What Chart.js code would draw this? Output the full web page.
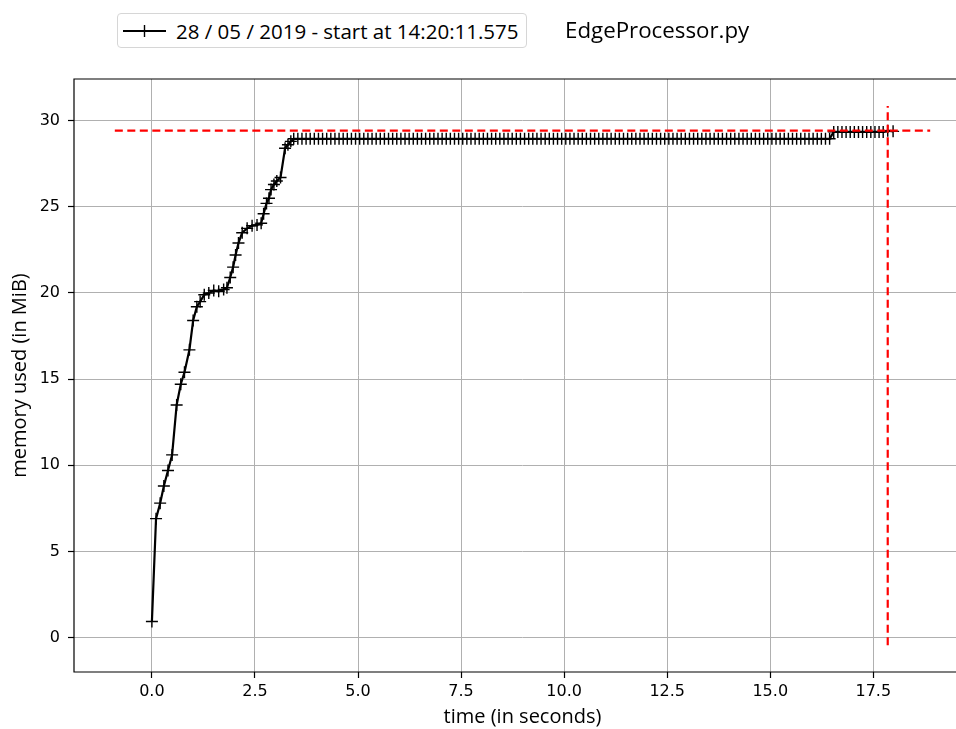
<!DOCTYPE html>
<html>
<head>
<meta charset="utf-8">
<script src="https://cdn.jsdelivr.net/npm/chart.js@4.4.1/dist/chart.umd.min.js"></script>
<style>
  body { margin: 0; background: #fff; overflow: hidden; }
  #wrap { position: relative; width: 956px; height: 729px; overflow: hidden; }
  #legend {
    position: absolute; left: 117px; top: 13px; width: 408px; height: 33px;
    border: 1px solid #d6d6d6; border-radius: 4px; background: #fff;
    font-family: "Open Sans", sans-serif; font-size: 20.5px; color: #000;
    display: flex; align-items: center; white-space: nowrap;
  }
  #legend svg { margin-left: 5px; margin-right: 10px; flex: none; }
  #title {
    position: absolute; left: 565px; top: 14px;
    font-family: "Open Sans", sans-serif; font-size: 22.3px; color: #000;
  }
</style>
</head>
<body>
<div id="wrap">
  <canvas id="memChart" width="980" height="729"></canvas>
  <div id="legend">
    <svg width="43" height="16"><line x1="0" y1="8" x2="43" y2="8" stroke="#000" stroke-width="2.2"/><line x1="21.5" y1="2" x2="21.5" y2="14" stroke="#000" stroke-width="1.4"/><line x1="15.5" y1="8" x2="27.5" y2="8" stroke="#000" stroke-width="1.4"/></svg>
    <span id="legendText"></span>
  </div>
  <div id="title"></div>
</div>
<script>
// labels
const legendLabel = '28 / 05 / 2019 - start at 14:20:11.575';
const titleText = 'EdgeProcessor.py';
const xTitle = 'time (in seconds)';
const yTitle = 'memory used (in MiB)';

// samples (seconds / MiB)
const times = [
    0.00, 0.10, 0.20, 0.29, 0.39, 0.49, 0.60, 0.70, 0.79, 0.91,
    1.00, 1.09, 1.17, 1.27, 1.38, 1.50, 1.62, 1.74, 1.82, 1.90,
    1.97, 2.03, 2.10, 2.19, 2.31, 2.43, 2.55, 2.65, 2.71, 2.78,
    2.84, 2.89, 2.96, 3.03, 3.12, 3.23, 3.30, 3.37, 3.44,
    3.54, 3.64, 3.74, 3.84, 3.94, 4.04, 4.14, 4.24, 4.34, 4.44,
    4.54, 4.64, 4.74, 4.84, 4.94, 5.04, 5.14, 5.24, 5.34, 5.44,
    5.54, 5.64, 5.74, 5.84, 5.94, 6.04, 6.14, 6.24, 6.34, 6.44,
    6.54, 6.64, 6.74, 6.84, 6.94, 7.04, 7.14, 7.24, 7.34, 7.44,
    7.54, 7.64, 7.74, 7.84, 7.94, 8.04, 8.14, 8.24, 8.34, 8.44,
    8.54, 8.64, 8.74, 8.84, 8.94, 9.04, 9.14, 9.24, 9.34, 9.44,
    9.54, 9.64, 9.74, 9.84, 9.94, 10.04, 10.14, 10.24, 10.34, 10.44,
    10.54, 10.64, 10.74, 10.84, 10.94, 11.04, 11.14, 11.24, 11.34, 11.44,
    11.54, 11.64, 11.74, 11.84, 11.94, 12.04, 12.14, 12.24, 12.34, 12.44,
    12.54, 12.64, 12.74, 12.84, 12.94, 13.04, 13.14, 13.24, 13.34, 13.44,
    13.54, 13.64, 13.74, 13.84, 13.94, 14.04, 14.14, 14.24, 14.34, 14.44,
    14.54, 14.64, 14.74, 14.84, 14.94, 15.04, 15.14, 15.24, 15.34, 15.44,
    15.54, 15.64, 15.74, 15.84, 15.94, 16.04, 16.14, 16.24, 16.34, 16.44,
    16.54, 16.64, 16.74, 16.84, 16.94, 17.04, 17.14, 17.24, 17.34, 17.44,
    17.54, 17.64, 17.74, 17.85, 17.98
];
const memUsed = [
    0.93, 6.90, 7.80, 8.80, 9.70, 10.60, 13.50, 14.70, 15.40, 16.70,
    18.40, 19.20, 19.50, 19.90, 20.00, 20.15, 20.10, 20.20, 20.30, 20.90,
    21.50, 22.20, 22.90, 23.50, 23.75, 23.90, 23.95, 24.05, 24.60, 25.20,
    25.50, 26.00, 26.30, 26.50, 26.70, 28.40, 28.60, 28.80, 28.95,
    28.95, 28.95, 28.95, 28.95, 28.95, 28.95, 28.95, 28.95, 28.95, 28.95,
    28.95, 28.95, 28.95, 28.95, 28.95, 28.95, 28.95, 28.95, 28.95, 28.95,
    28.95, 28.95, 28.95, 28.95, 28.95, 28.95, 28.95, 28.95, 28.95, 28.95,
    28.95, 28.95, 28.95, 28.95, 28.95, 28.95, 28.95, 28.95, 28.95, 28.95,
    28.95, 28.95, 28.95, 28.95, 28.95, 28.95, 28.95, 28.95, 28.95, 28.95,
    28.95, 28.95, 28.95, 28.95, 28.95, 28.95, 28.95, 28.95, 28.95, 28.95,
    28.95, 28.95, 28.95, 28.95, 28.95, 28.95, 28.95, 28.95, 28.95, 28.95,
    28.95, 28.95, 28.95, 28.95, 28.95, 28.95, 28.95, 28.95, 28.95, 28.95,
    28.95, 28.95, 28.95, 28.95, 28.95, 28.95, 28.95, 28.95, 28.95, 28.95,
    28.95, 28.95, 28.95, 28.95, 28.95, 28.95, 28.95, 28.95, 28.95, 28.95,
    28.95, 28.95, 28.95, 28.95, 28.95, 28.95, 28.95, 28.95, 28.95, 28.95,
    28.95, 28.95, 28.95, 28.95, 28.95, 28.95, 28.95, 28.95, 28.95, 28.95,
    28.95, 28.95, 28.95, 28.95, 28.95, 28.95, 28.95, 28.95, 28.95, 28.95,
    29.35, 29.35, 29.35, 29.35, 29.35, 29.35, 29.35, 29.35, 29.35, 29.35,
    29.35, 29.35, 29.35, 29.42, 29.38
];

// peak markers (dashed red lines)
const peakTime = 17.85;
const peakMem = 29.42;
const hLineX = [-0.9, 18.88];
const vLineY = [-0.45, 30.86];

// axes
const xTicks = [0, 2.5, 5, 7.5, 10, 12.5, 15, 17.5];
const yTicks = [0, 5, 10, 15, 20, 25, 30];
const xRange = [-1.89, 19.87];
const yRange = [-2.0, 32.42];

document.getElementById('legendText').textContent = legendLabel;
document.getElementById('title').textContent = titleText;

const tickFont = { family: 'DejaVu Sans', size: 16 };
const labelFont = { family: 'Open Sans', size: 20 };

// left, top and bottom spines; the right one is cut off in the original
const frame = {
    id: 'frame',
    afterDraw(chart) {
        const a = chart.chartArea, c = chart.ctx;
        c.save();
        c.strokeStyle = '#000';
        c.lineWidth = 1.2;
        c.beginPath();
        c.moveTo(a.right, a.top);
        c.lineTo(a.left, a.top);
        c.lineTo(a.left, a.bottom);
        c.lineTo(a.right, a.bottom);
        c.stroke();
        c.restore();
    }
};

const ctx = document.getElementById('memChart').getContext('2d');
new Chart(ctx, {
    type: 'scatter',
    data: {
        datasets: [
            {
                label: 'peak-h',
                data: hLineX.map(x => ({ x: x, y: peakMem })),
                showLine: true,
                borderColor: '#ff0000',
                borderWidth: 2.2,
                borderDash: [8, 4.5],
                pointRadius: 0
            },
            {
                label: 'peak-v',
                data: vLineY.map(y => ({ x: peakTime, y: y })),
                showLine: true,
                borderColor: '#ff0000',
                borderWidth: 2.2,
                borderDash: [8, 4.5],
                pointRadius: 0
            },
            {
                label: legendLabel,
                data: times.map((t, i) => ({ x: t, y: memUsed[i] })),
                showLine: true,
                borderColor: '#000',
                borderWidth: 2.2,
                pointStyle: 'cross',
                pointRadius: 6,
                pointBorderWidth: 1.4,
                pointBorderColor: '#000',
                pointRotation: 0
            }
        ]
    },
    options: {
        responsive: false,
        animation: false,
        layout: { padding: { top: 79, right: 9, bottom: 0, left: 0 } },
        plugins: { legend: { display: false }, tooltip: { enabled: false } },
        scales: {
            x: {
                type: 'linear',
                min: xRange[0],
                max: xRange[1],
                afterBuildTicks: s => { s.ticks = xTicks.map(v => ({ value: v })); },
                afterFit: s => { s.height = 57; },
                ticks: {
                    color: '#000', font: tickFont, padding: 4,
                    callback: v => v.toFixed(1)
                },
                grid: { color: '#b0b0b0', lineWidth: 1, tickColor: '#000', tickLength: 6, tickWidth: 1.2 },
                border: { display: false },
                title: { display: true, text: xTitle, color: '#000', font: labelFont, padding: { top: 0, bottom: 0 } }
            },
            y: {
                type: 'linear',
                min: yRange[0],
                max: yRange[1],
                afterBuildTicks: s => { s.ticks = yTicks.map(v => ({ value: v })); },
                afterFit: s => { s.width = 74; },
                ticks: { color: '#000', font: tickFont, padding: 8 },
                grid: { color: '#b0b0b0', lineWidth: 1, tickColor: '#000', tickLength: 6, tickWidth: 1.2 },
                border: { display: false },
                title: { display: true, text: yTitle, color: '#000', font: labelFont, padding: { top: 8, bottom: 0 } }
            }
        }
    },
    plugins: [frame]
});
</script>
</body>
</html>
